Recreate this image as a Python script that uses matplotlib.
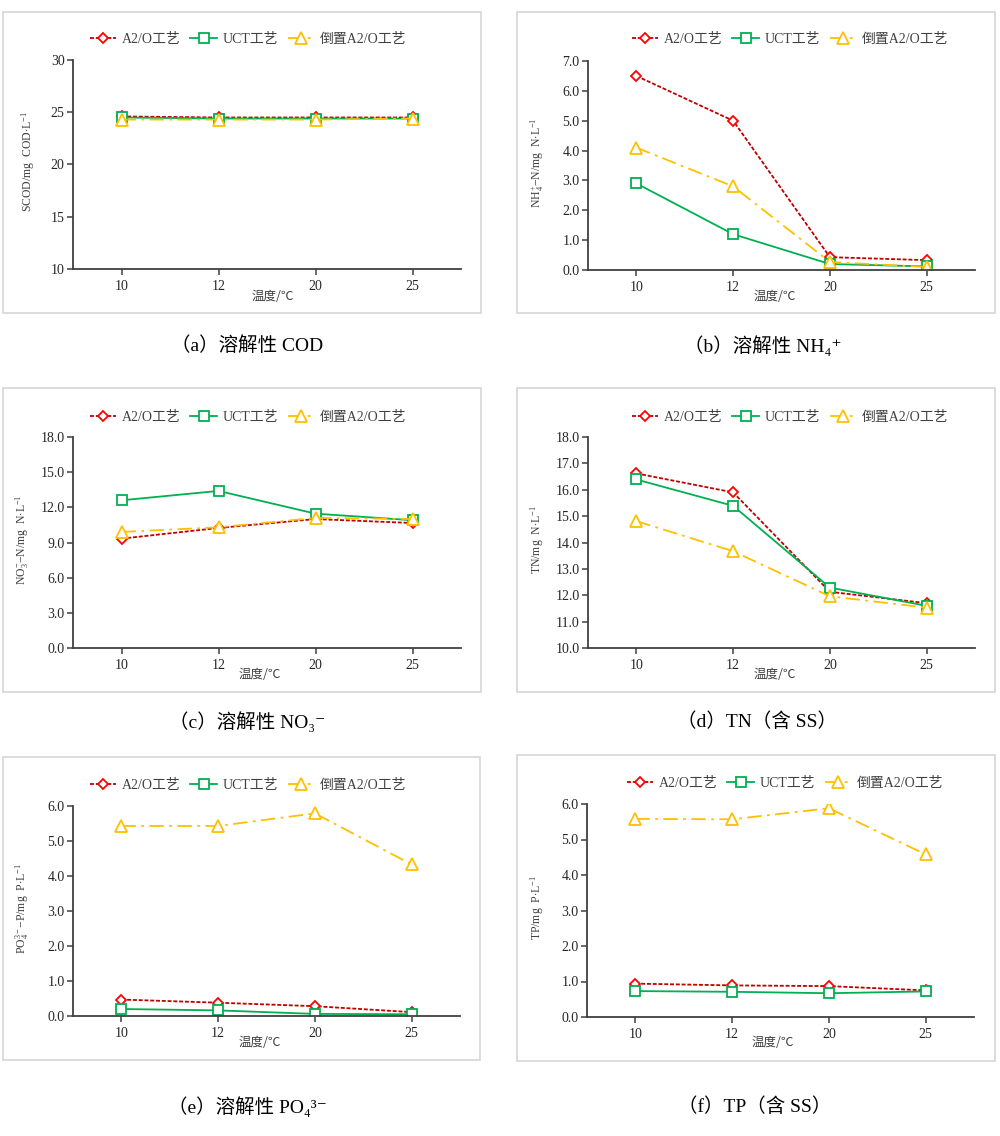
import matplotlib
matplotlib.use("Agg")
import matplotlib.pyplot as plt
from matplotlib.patches import Rectangle

plt.rcParams['font.family'] = ['Liberation Serif', 'Noto Sans CJK SC', 'DejaVu Serif']
plt.rcParams['mathtext.fontset'] = 'custom'
plt.rcParams['mathtext.rm'] = 'Liberation Serif'
plt.rcParams['mathtext.it'] = 'Liberation Serif:italic'

temps = ['10', '12', '20', '25']
series_names = ['A2/O工艺', 'UCT工艺', '倒置A2/O工艺']

scod_a2o = [24.6, 24.5, 24.5, 24.5]
scod_uct = [24.5, 24.4, 24.4, 24.4]
scod_inv = [24.3, 24.3, 24.3, 24.4]

nh4_a2o = [6.5, 5.0, 0.43, 0.33]
nh4_uct = [2.9, 1.2, 0.2, 0.12]
nh4_inv = [4.1, 2.8, 0.27, 0.1]

no3_a2o = [9.33, 10.24, 11.0, 10.66]
no3_uct = [12.6, 13.4, 11.46, 10.9]
no3_inv = [9.9, 10.3, 11.1, 11.0]

tn_a2o = [16.62, 15.9, 12.13, 11.7]
tn_uct = [16.39, 15.39, 12.29, 11.6]
tn_inv = [14.81, 13.67, 11.96, 11.53]

po4_a2o = [0.47, 0.38, 0.28, 0.11]
po4_uct = [0.2, 0.16, 0.06, 0.05]
po4_inv = [5.43, 5.43, 5.79, 4.33]

tp_a2o = [0.94, 0.89, 0.87, 0.75]
tp_uct = [0.73, 0.71, 0.67, 0.72]
tp_inv = [5.58, 5.57, 5.88, 4.58]

W, H = 1000, 1136
fig = plt.figure(figsize=(W / 100, H / 100), dpi=100)
fig.patch.set_facecolor('white')

def fx(x):
    return x / W

def fy(y):
    return 1 - y / H

# each panel: border box, axes box (px), legend / xlabel / caption centres, ylabel x
panels = [
    dict(box=(3, 12, 481, 313), ax=(73, 60, 461, 269), leg=(248, 39), xl=(273, 297), cap=(247, 346), ylx=28,
         data=(scod_a2o, scod_uct, scod_inv), ylim=(10, 30), yticks=[10, 15, 20, 25, 30], fmt='{:.0f}',
         ylabel=r'SCOD/mg  COD$\cdot$L$^{-1}$', caption='（a）溶解性 COD'),
    dict(box=(517, 12, 995, 313), ax=(588, 61, 975, 270), leg=(790, 39), xl=(775, 296), cap=(763, 346), ylx=537,
         data=(nh4_a2o, nh4_uct, nh4_inv), ylim=(0, 7), yticks=[0, 1, 2, 3, 4, 5, 6, 7], fmt='{:.1f}',
         ylabel=r'NH$_4^{+}$$-$N/mg  N$\cdot$L$^{-1}$', caption='（b）溶解性 NH₄⁺'),
    dict(box=(3, 388, 481, 692), ax=(73, 437, 461, 648), leg=(248, 417), xl=(260, 674), cap=(247, 722), ylx=22,
         data=(no3_a2o, no3_uct, no3_inv), ylim=(0, 18), yticks=[0, 3, 6, 9, 12, 15, 18], fmt='{:.1f}',
         ylabel=r'NO$_3^{-}$$-$N/mg  N$\cdot$L$^{-1}$', caption='（c）溶解性 NO₃⁻'),
    dict(box=(517, 388, 995, 692), ax=(588, 437, 975, 648), leg=(790, 417), xl=(775, 674), cap=(757, 722), ylx=537,
         data=(tn_a2o, tn_uct, tn_inv), ylim=(10, 18), yticks=[10, 11, 12, 13, 14, 15, 16, 17, 18], fmt='{:.1f}',
         ylabel=r'TN/mg  N$\cdot$L$^{-1}$', caption='（d）TN（含 SS）'),
    dict(box=(3, 757, 480, 1060), ax=(73, 806, 460, 1016), leg=(248, 785), xl=(260, 1042), cap=(247, 1107), ylx=22,
         data=(po4_a2o, po4_uct, po4_inv), ylim=(0, 6), yticks=[0, 1, 2, 3, 4, 5, 6], fmt='{:.1f}',
         ylabel=r'PO$_4^{3-}$$-$P/mg  P$\cdot$L$^{-1}$', caption='（e）溶解性 PO₄³⁻'),
    dict(box=(517, 755, 995, 1061), ax=(587, 804, 974, 1017), leg=(785, 783), xl=(773, 1042), cap=(755, 1107), ylx=537,
         data=(tp_a2o, tp_uct, tp_inv), ylim=(0, 6), yticks=[0, 1, 2, 3, 4, 5, 6], fmt='{:.1f}',
         ylabel=r'TP/mg  P$\cdot$L$^{-1}$', caption='（f）TP（含 SS）'),
]

styles = [
    dict(color='#C00000', mec='#FF0000', marker='D', ms=5.5, ls=(0, (2.2, 1.0))),
    dict(color='#00B050', mec='#00B050', marker='s', ms=7.5, ls='-'),
    dict(color='#FFC000', mec='#FFC000', marker='^', ms=8, ls=(0, (8, 3, 1.5, 3))),
]

axis_col = '#404040'
xs = list(range(len(temps)))

for p in panels:
    bx0, by0, bx1, by1 = p['box']
    fig.patches.append(Rectangle((fx(bx0), fy(by1)), fx(bx1 - bx0), (by1 - by0) / H,
                                 transform=fig.transFigure, fill=False, edgecolor='#D9D9D9', lw=1.3))
    x0, y0, x1, y1 = p['ax']
    ax = fig.add_axes([fx(x0), fy(y1), fx(x1 - x0), (y1 - y0) / H])
    for vals, name, st in zip(p['data'], series_names, styles):
        ax.plot(xs, vals, color=st['color'], ls=st['ls'], lw=1.3, marker=st['marker'], ms=st['ms'],
                mfc='white', mec=st['mec'], mew=1.3, label=name)
    ax.set_xlim(-0.5, 3.5)
    ax.set_ylim(*p['ylim'])
    ax.set_xticks(xs)
    ax.set_xticklabels(temps)
    ax.set_yticks(p['yticks'])
    ax.set_yticklabels([p['fmt'].format(v) for v in p['yticks']])
    for s in ['top', 'right']:
        ax.spines[s].set_visible(False)
    for s in ['left', 'bottom']:
        ax.spines[s].set_color(axis_col)
        ax.spines[s].set_linewidth(1.3)
    ax.tick_params(axis='both', direction='out', length=4, width=1.1, color=axis_col,
                   labelsize=10, labelcolor='#262626')
    ax.tick_params(axis='x', pad=4)
    ax.tick_params(axis='y', pad=2)
    ax.set_facecolor('none')

    ax.legend(loc='center', bbox_to_anchor=(fx(p['leg'][0]), fy(p['leg'][1])), bbox_transform=fig.transFigure,
              ncol=3, frameon=False, fontsize=10, handlelength=1.9, handletextpad=0.4, columnspacing=0.7,
              labelcolor='#404040', borderaxespad=0)

    fig.text(fx(p['xl'][0]), fy(p['xl'][1]), '温度/℃', ha='center', va='center', fontsize=9,
             color='#404040', family=['Noto Sans CJK SC', 'DejaVu Sans'])
    cy = (y0 + y1) / 2 - 3
    fig.text(fx(p['ylx']), fy(cy), p['ylabel'], rotation=90, ha='center', va='center',
             fontsize=8.5, color='#404040')
    fig.text(fx(p['cap'][0]), fy(p['cap'][1]), p['caption'], ha='center', va='center', fontsize=14,
             color='black', family=['Liberation Serif', 'Noto Sans CJK SC', 'DejaVu Serif'])

fig.savefig('out.png', dpi=100, facecolor='white')
